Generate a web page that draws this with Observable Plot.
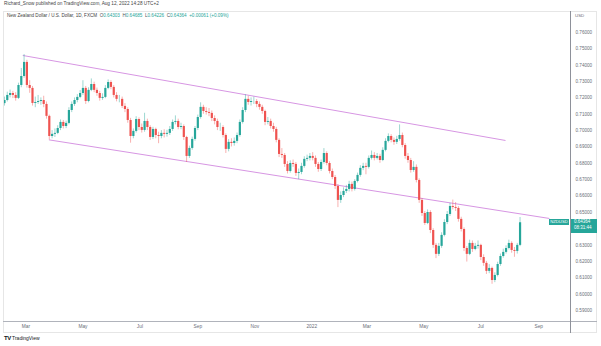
<!DOCTYPE html>
<html><head><meta charset="utf-8">
<script src="https://cdn.jsdelivr.net/npm/d3@7"></script>
<script src="https://cdn.jsdelivr.net/npm/@observablehq/plot@0.6"></script>
<style>
body{margin:0;background:#fff;font-family:"Liberation Sans",Arial,sans-serif;}
#wrap{position:relative;width:601px;height:346px;overflow:hidden;background:#fff;}
#wrap svg{position:absolute;left:0;top:0;}
.t{position:absolute;white-space:nowrap;line-height:1;}
.ln{position:absolute;}
</style></head><body><div id="wrap"></div>
<script>
// ---- data ----
const startDate = "2021-02-06";   // first (3-day) candle
const stepDays = 3;
const firstOpen = 0.7165;
const closes = [
0.7184,0.7215,0.7227,0.7215,0.7197,0.7276,0.7331,0.7417,0.7276,0.7258,
0.7166,0.7172,0.7178,0.7184,0.7160,0.7087,0.6964,0.6977,0.6983,0.7013,
0.7050,0.7025,0.7044,0.7123,0.7160,0.7184,0.7203,0.7227,0.7258,0.7178,
0.7246,0.7282,0.7246,0.7227,0.7197,0.7203,0.7258,0.7294,0.7264,0.7215,
0.7191,0.7191,0.7148,0.7129,0.7062,0.6964,0.6995,0.7068,0.7019,0.7001,
0.7056,0.7019,0.6958,0.7007,0.6970,0.6964,0.6983,0.6977,0.6983,0.7007,
0.7050,0.7056,0.7019,0.7025,0.6958,0.6842,0.6891,0.6946,0.7013,0.7080,
0.7142,0.7117,0.7111,0.7105,0.7074,0.7056,0.7019,0.7019,0.6970,0.6885,
0.6928,0.6921,0.6934,0.6970,0.7050,0.7123,0.7191,0.7172,0.7178,0.7178,
0.7160,0.7142,0.7117,0.7050,0.7056,0.7025,0.7007,0.6940,0.6854,0.6848,
0.6793,0.6750,0.6799,0.6793,0.6738,0.6744,0.6781,0.6824,0.6830,0.6842,
0.6830,0.6793,0.6762,0.6805,0.6860,0.6799,0.6750,0.6713,0.6658,0.6573,
0.6603,0.6628,0.6640,0.6671,0.6640,0.6689,0.6726,0.6769,0.6781,0.6775,
0.6830,0.6848,0.6830,0.6842,0.6817,0.6879,0.6934,0.6964,0.6940,0.6928,
0.6946,0.6970,0.6909,0.6842,0.6817,0.6756,0.6775,0.6695,0.6573,0.6493,
0.6432,0.6499,0.6389,0.6298,0.6243,0.6292,0.6359,0.6438,0.6487,0.6536,
0.6530,0.6524,0.6457,0.6395,0.6279,0.6243,0.6310,0.6273,0.6292,0.6298,
0.6224,0.6188,0.6139,0.6157,0.6083,0.6114,0.6181,0.6230,0.6255,0.6279,
0.6310,0.6267,0.6261,0.6298,0.64364
];
const highs = [
0.7205,0.7235,0.7248,0.7240,0.7232,0.7290,0.7380,0.7465,0.7430,0.7305,
0.7270,0.7205,0.7215,0.7200,0.7210,0.7175,0.7095,0.7000,0.7010,0.7030,
0.7065,0.7062,0.7058,0.7140,0.7175,0.7200,0.7220,0.7245,0.7305,0.7270,
0.7262,0.7316,0.7296,0.7260,0.7240,0.7225,0.7275,0.7310,0.7305,0.7275,
0.7232,0.7215,0.7205,0.7165,0.7140,0.7075,0.7010,0.7085,0.7078,0.7040,
0.7106,0.7070,0.7030,0.7020,0.7015,0.6990,0.7000,0.7005,0.7002,0.7025,
0.7065,0.7090,0.7070,0.7045,0.7035,0.6965,0.6905,0.6960,0.7025,0.7095,
0.7170,0.7155,0.7140,0.7135,0.7120,0.7090,0.7070,0.7045,0.7030,0.6980,
0.6945,0.6950,0.6955,0.6985,0.7065,0.7140,0.7219,0.7210,0.7200,0.7205,
0.7190,0.7175,0.7155,0.7125,0.7080,0.7070,0.7045,0.7020,0.6950,0.6890,
0.6860,0.6810,0.6815,0.6820,0.6805,0.6765,0.6800,0.6840,0.6850,0.6860,
0.6865,0.6845,0.6805,0.6820,0.6890,0.6870,0.6810,0.6765,0.6725,0.6670,
0.6625,0.6650,0.6665,0.6690,0.6685,0.6700,0.6740,0.6785,0.6800,0.6800,
0.6845,0.6875,0.6865,0.6860,0.6855,0.6895,0.6950,0.6980,0.6975,0.6955,
0.6965,0.7035,0.6985,0.6920,0.6860,0.6830,0.6810,0.6790,0.6705,0.6585,
0.6505,0.6515,0.6510,0.6400,0.6310,0.6310,0.6375,0.6455,0.6505,0.6555,
0.6575,0.6560,0.6535,0.6470,0.6405,0.6290,0.6330,0.6325,0.6310,0.6325,
0.6305,0.6240,0.6200,0.6180,0.6165,0.6130,0.6195,0.6245,0.6275,0.6295,
0.6330,0.6320,0.6285,0.6310,0.64685
];
const lows = [
0.7150,0.7175,0.7200,0.7196,0.7180,0.7190,0.7262,0.7320,0.7260,0.7228,
0.7150,0.7140,0.7160,0.7155,0.7140,0.7070,0.6943,0.6950,0.6958,0.6975,
0.7000,0.7010,0.7012,0.7035,0.7110,0.7148,0.7170,0.7195,0.7215,0.7160,
0.7170,0.7238,0.7232,0.7210,0.7180,0.7185,0.7195,0.7250,0.7250,0.7200,
0.7176,0.7170,0.7135,0.7110,0.7045,0.6923,0.6950,0.6985,0.7000,0.6985,
0.6990,0.7000,0.6940,0.6945,0.6950,0.6920,0.6950,0.6955,0.6960,0.6970,
0.6995,0.7035,0.7005,0.7005,0.6940,0.6805,0.6830,0.6880,0.6935,0.7000,
0.7070,0.7100,0.7095,0.7085,0.7055,0.7035,0.7000,0.6995,0.6955,0.6860,
0.6870,0.6900,0.6905,0.6920,0.6960,0.7040,0.7110,0.7155,0.7150,0.7160,
0.7140,0.7125,0.7100,0.7030,0.7035,0.7010,0.6990,0.6925,0.6835,0.6830,
0.6775,0.6735,0.6740,0.6775,0.6720,0.6700,0.6730,0.6770,0.6810,0.6815,
0.6815,0.6775,0.6745,0.6750,0.6795,0.6785,0.6735,0.6700,0.6640,0.6529,
0.6555,0.6590,0.6615,0.6625,0.6625,0.6630,0.6680,0.6715,0.6755,0.6730,
0.6765,0.6820,0.6815,0.6820,0.6800,0.6810,0.6870,0.6925,0.6925,0.6910,
0.6915,0.6935,0.6895,0.6825,0.6800,0.6740,0.6745,0.6680,0.6555,0.6475,
0.6420,0.6425,0.6370,0.6280,0.6217,0.6230,0.6280,0.6350,0.6425,0.6475,
0.6515,0.6505,0.6440,0.6380,0.6260,0.6196,0.6235,0.6255,0.6265,0.6275,
0.6205,0.6170,0.6120,0.6125,0.6060,0.6070,0.6105,0.6170,0.6220,0.6245,
0.6270,0.6250,0.6225,0.6245,0.6290
];
const upperTrend = [["2021-02-26", 0.7459], ["2022-07-27", 0.6940]];
const lowerTrend = [["2021-03-26", 0.6943], ["2022-09-12", 0.6463]];
const xTickDates = ["2021-03-01","2021-05-01","2021-07-01","2021-09-01","2021-11-01","2022-01-01","2022-03-01","2022-05-01","2022-07-01","2022-09-01"];
const xTickLabels = ["Mar","May","Jul","Sep","Nov","2022","Mar","May","Jul","Sep"];
const yTicks = [0.59,0.60,0.61,0.62,0.63,0.64,0.65,0.66,0.67,0.68,0.69,0.70,0.71,0.72,0.73,0.74,0.75,0.76];
const symbol = "NZDUSD";
const lastPrice = 0.64364;
const countdown = "08:31:44";
const headerText = "Richard_Snow published on TradingView.com, Aug 12, 2022 14:28 UTC+2";
const titleText = "New Zealand Dollar / U.S. Dollar, 1D, FXCM";
const ohlcLabels = ["O","H","L","C"];
const ohlcValues = ["0.64303","0.64685","0.64226","0.64364"];
const changeText = "+0.00061 (+0.09%)";

// ---- build ----
const UP = "#26a69a", DOWN = "#ef5350", TREND = "#d796e3";
const t0 = new Date(startDate + "T00:00Z");
const candles = closes.map((c, i) => ({
  date: d3.utcDay.offset(t0, stepDays * i),
  open: i ? closes[i - 1] : firstOpen,
  close: c, high: highs[i], low: lows[i]
}));
const ups = candles.filter(d => d.close >= d.open);
const downs = candles.filter(d => d.close < d.open);
const trend = (arr, id) => arr.map(([d, v]) => ({date: new Date(d + "T00:00Z"), v, id}));
const lines = [...trend(upperTrend, "u"), ...trend(lowerTrend, "l")];
const xt = xTickDates.map((d, i) => ({date: new Date(d + "T00:00Z"), label: xTickLabels[i]}));
const fmt = d3.format(".5f");

const chart = Plot.plot({
  width: 601, height: 346,
  marginTop: 12, marginBottom: 25, marginLeft: 0, marginRight: 31,
  style: {background: "transparent", fontFamily: "Liberation Sans, Arial, sans-serif"},
  x: {type: "utc", domain: [new Date("2021-02-01T18:00Z"), new Date("2022-10-05T00:00Z")], axis: null},
  y: {domain: [0.58324, 0.77223], axis: null},
  marks: [
    Plot.line(lines, {x: "date", y: "v", z: "id", stroke: TREND, strokeWidth: 1}),
    Plot.ruleX(ups, {x: "date", y1: "low", y2: "high", stroke: UP, strokeOpacity: 0.45, strokeWidth: 1}),
    Plot.ruleX(downs, {x: "date", y1: "low", y2: "high", stroke: DOWN, strokeOpacity: 0.45, strokeWidth: 1}),
    Plot.ruleX(ups, {x: "date", y1: "open", y2: "close", stroke: UP, strokeWidth: 2.2}),
    Plot.ruleX(downs, {x: "date", y1: "open", y2: "close", stroke: DOWN, strokeWidth: 2.2}),
    Plot.text(yTicks, {y: d => d, text: d => fmt(d), frameAnchor: "right", textAnchor: "start", dx: 5, fontSize: 4.6, fill: "#6a6d78"}),
    Plot.text(xt, {x: "date", text: "label", frameAnchor: "bottom", dy: 6.5, fontSize: 4.8, fill: "#6a6d78"})
  ]
});
const wrap = document.getElementById("wrap");
wrap.appendChild(chart);

function add(html, css, cls = "t") {
  const d = document.createElement("div");
  d.className = cls; d.innerHTML = html; d.style.cssText = css; wrap.appendChild(d); return d;
}
// panel chrome
add("", "left:3px;top:11px;width:594px;height:322px;border:1px solid #e6e6e6;box-sizing:border-box;", "ln");
add("", "left:3px;top:321px;width:594px;height:1px;background:#b0b3bb;", "ln");
add("", "left:570px;top:11px;width:1px;height:322px;background:#8e919a;", "ln");
// header
add(headerText, "left:4px;top:2px;font-size:4.7px;color:#444;");
const ohlc = ohlcLabels.map((l, i) => `<span style="color:#555">${l}</span><span style="color:${UP}">${ohlcValues[i]}</span>`).join("&nbsp;&nbsp;");
add(`<span style="color:#444">${titleText}</span>&nbsp;&nbsp;${ohlc}&nbsp;&nbsp;<span style="color:${UP}">${changeText}</span>`,
    "left:7px;top:14px;font-size:4.6px;");
add("USD", "left:575px;top:13.5px;font-size:4.4px;color:#6a6d78;");
// last price label
const yp = chart.scale("y").apply(lastPrice);
add(symbol, `left:549px;top:${yp - 3}px;width:20px;height:6px;background:${UP};color:#fff;font-size:4.2px;text-align:center;line-height:6px;`);
add(`${fmt(lastPrice)}<br>${countdown}`, `left:571px;top:${yp - 3.5}px;width:26px;height:14px;background:${UP};color:#fff;font-size:4.5px;line-height:6.5px;padding-left:3px;box-sizing:border-box;`);
// footer logo
add(`<b style="font-size:6px;color:#131722;letter-spacing:-0.5px">TV</b>&nbsp;<span style="color:#131722">TradingView</span>`, "left:4px;top:335px;font-size:5px;");
</script></body></html>
